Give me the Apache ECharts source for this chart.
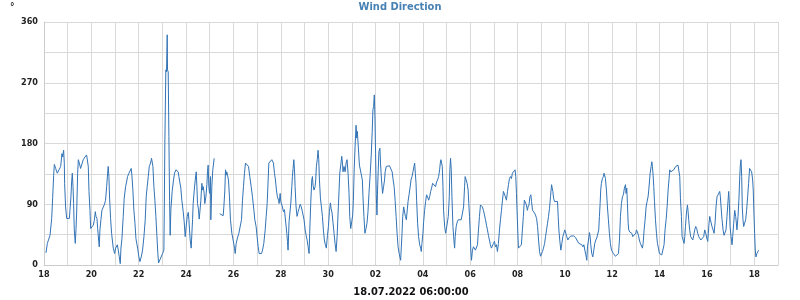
<!DOCTYPE html>
<html>
<head>
<meta charset="utf-8">
<script src="https://cdn.jsdelivr.net/npm/echarts@6/dist/echarts.min.js"></script>
<style>
html,body{margin:0;padding:0;background:#fff;}
#c{width:800px;height:300px;}
</style>
</head>
<body>
<div id="c"></div>
<script>
// Hours since 18.06.2022 00:00 and wind direction in degrees
const hoursA = [2.0,3.4,6.1,7.8,8.8,9.8,10.5,11.8,13.5,15.2,16.9,18.2,18.9,19.9,20.6,20.9,21.9,23.0,25.7,26.3,27.3,28.0,28.7,29.4,30.0,30.7,31.7,32.4,33.1,34.1,34.8,35.8,37.1,38.1,39.8,41.5,43.2,44.2,44.9,45.6,46.6,47.3,49.0,50.0,51.0,52.0,52.7,53.7,54.4,55.4,56.0,56.7,57.7,58.7,60.1,61.1,62.4,63.5,64.5,65.1,65.8,66.5,67.5,68.5,70.2,71.6,72.6,74.3,75.3,76.3,77.3,78.0,79.0,80.3,81.3,82.7,83.7,84.7,86.1,87.4,88.4,89.1,90.1,91.1,92.2,93.2,94.9,96.2,97.2,98.6,99.9,101.3,102.6,103.6,104.6,105.7,106.7,108.0,109.0,109.7,110.4,111.4,112.4,113.4,114.4,115.4,116.1,117.5];
const dirA = [18,32,44,69,100,133,149,143,136,141,146,165,160,170,150,121,86,69,69,81,101,123,136,116,91,52,32,52,77,136,156,151,143,148,156,160,163,165,146,109,81,54,54,59,66,79,72,69,54,37,27,52,67,81,86,89,96,116,136,146,131,99,69,47,25,17,25,30,22,12,2,25,39,72,99,116,123,131,136,138,143,133,111,81,62,39,25,12,5,12,22,42,67,101,116,131,146,151,158,160,146,116,96,72,44,17,3,5];

const hoursB = [120.2,121.5,121.9,122.5,123.5,124.2,124.9,125.2,125.9,126.6,127.3,127.9,128.6,129.3,129.9,131.3,132.3,133.7,135.0,136.0,136.7,137.7,138.7,139.7,141.1,142.1,143.1,144.1,145.2,146.2,146.9,147.5,148.2,149.2,149.9,150.6,151.2,152.3,153.3,154.3,155.0,155.6,156.6,157.3,158.0,159.0,160.0,160.7,161.4,162.4,163.0,164.1,165.1,165.7,166.4,167.1,167.8,168.8,169.1,170.1,171.1,172.5,175.0,178.2,181.6,182.3,183.3,184.0,184.6,185.3,186.0,187.0,188.0,189.0,190.4,191.7,193.1,193.8,194.8,196.1,197.5,199.2,200.2,201.2,202.2,203.2,204.2,205.9,207.3,208.6,210.0,211.3,212.7,213.7,215.0,216.0,217.1,218.1,220.5,221.5,222.8,224.2,225.2,226.2,227.2,227.9,229.9,230.9,231.9,232.6,233.6,234.6,235.6,236.6,237.7,238.3,239.4,240.0,241.0,241.7,242.7,243.7,245.1,246.1,246.8,247.4,248.4,249.1];
const dirB = [17,22,77,180,289,286,341,289,286,190,96,44,82,84,109,126,136,141,141,138,131,131,114,96,79,64,42,57,72,78,67,52,37,25,47,67,91,111,126,138,116,91,82,68,79,96,121,111,116,106,91,101,119,138,148,116,106,131,67,116,141,158,null,76,73,86,111,141,133,138,133,126,101,67,47,37,25,17,32,40,47,47,67,96,116,136,151,152,146,131,116,101,82,67,57,42,27,17,17,22,32,52,72,91,126,151,152,156,158,151,136,126,111,101,96,91,106,94,96,86,79,82,62,47,35,22,64,64];

const hoursC = [250.2,251.2,251.8,252.5,253.2,253.9,254.5,255.5,256.5,257.6,258.6,259.6,260.6,261.6,262.6,263.6,264.7,265.7,266.7,267.7,268.7,269.3,270.4,271.4,272.1,272.7,273.7,274.8,275.4,276.1,277.1,277.8,278.5,279.2,280.2,281.2,282.2,283.2,284.2,285.2,286.2,287.3,288.3,289.3,290.3,291.0,292.0,293.0,294.0,295.0,296.1,297.1,298.1,299.1,299.8,300.8,301.8,302.5,303.1,304.1,305.2,306.2,307.2,308.2,309.2,309.9,310.9,311.9,312.9,313.6,314.3,315.3,316.3,317.0,317.6,318.6,319.7,320.7,321.7,322.7,323.3,324.3,325.3,326.4,327.4,328.4,329.4,330.7,331.7,332.7,333.4,334.1,334.8,335.4,336.1,336.8,337.5,338.1,338.8,339.5,340.5,341.1,342.1,343.2,344.2,345.2,345.8,346.9,348.5,350.2,351.9,352.9,353.9,354.9,355.9,356.9,357.9,358.9,360.0];
const dirC = [92,116,131,143,156,141,116,86,72,79,84,90,87,81,79,67,52,44,37,27,17,47,92,126,131,118,111,116,126,146,158,170,156,126,99,86,72,52,37,30,25,44,57,79,92,84,77,62,47,32,20,42,77,111,136,148,161,151,138,146,138,151,156,136,106,72,54,64,74,96,136,175,207,188,198,175,148,148,146,126,101,72,47,54,62,79,106,136,163,198,230,235,252,222,165,104,74,111,141,168,173,151,126,106,116,126,138,146,148,147,145,138,126,116,96,72,47,27,17];

const hoursD = [361.5,362.9,363.6,364.6,365.6,366.3,367.3,367.9,369.0,370.0,371.0,372.0,373.0,374.0,375.0,375.7,376.4,377.1,377.7,378.7,379.7,380.8,381.8,382.4,383.1,384.1,384.8,385.8,386.8,387.8,388.8,389.9,390.9,391.9,392.9,393.9,394.9,395.9,396.9,397.9,399.0,400.0,401.0,401.7,402.3,403.0,403.7,404.4,405.0,406.1,407.1,407.7,408.8,409.8,410.8,411.4,412.1,412.8,413.5,414.5,415.5,416.2,416.8,417.8,418.9,419.9,421.2,422.9,424.6,425.3,426.3,426.9,427.9,428.9,429.9,430.6,431.3,431.9,432.6,433.3,434.3,435.3,436.3,437.3,438.4,439.4,440.4,441.4,442.4,443.4,444.4,445.4,446.5,447.5,448.5,449.5,450.5,451.5,452.5,453.5,454.6,455.6,456.6,457.6,458.6,459.6,460.6,461.7,462.7,463.7,464.7,465.7,466.7,467.7,468.7,469.8,470.8,471.8,472.8,473.8,474.8,475.8,476.8,477.5,478.2,478.9,479.5,480.2,480.9,481.9,482.9,483.9,484.9,485.9,486.9,487.9,489.0,490.0,490.6,491.6];
const dirD = [7,47,72,86,84,72,67,77,94,104,114,126,131,138,146,151,136,121,96,62,42,30,25,20,32,47,64,81,94,104,101,96,101,109,114,121,119,121,116,123,126,131,141,151,156,158,146,116,81,57,47,52,54,72,101,141,158,141,101,57,37,25,42,57,64,67,68,67,68,86,116,131,126,121,111,91,72,52,22,7,22,27,25,22,20,30,52,72,89,89,86,81,74,67,59,52,44,37,30,25,27,32,35,27,30,20,32,52,67,81,96,109,111,101,96,109,119,128,131,128,136,138,136,141,131,106,81,52,25,27,27,30,52,72,96,94,89,81,86,89];

const hoursE = [492.5,493.5,494.2,495.2,496.2,497.2,498.2,499.3,500.3,501.3,502.3,503.3,504.3,505.3,506.3,507.4,508.4,509.4,510.4,511.4,512.4,513.4,514.5,515.1,515.8,516.5,517.5,518.5,519.5,520.5,521.2,521.9,522.9,523.9,524.9,525.9,526.9,527.9,528.9,529.9,531.0,532.0,533.0,534.0,535.0,536.0,537.0,538.0,539.1,540.1,541.1,542.1,543.1,544.1,545.1,546.2,547.2,548.2,549.2,550.2,550.9,551.9,552.9,553.6,554.2,555.2,556.3,557.3,558.3,559.3,560.3,561.3,562.3,563.0,563.7,564.3,565.0,566.0,567.0,567.7,568.4,569.1,570.1,571.1,572.1,573.1,574.1,575.2,576.2,577.2,578.2,579.2,580.2,581.2,582.3,583.3,584.3,585.3,586.3,587.3,588.3,589.4,590.0,590.7,591.4,592.1,592.7,593.7,594.8,595.8,596.8,597.8,598.8,599.8,600.5,601.5,602.5,603.5,604.5,605.5,606.6,607.3,608.3,609.3,610.3,611.3,612.3,613.0];
const dirE = [101,104,94,81,79,77,74,69,57,37,20,13,13,20,25,32,42,52,62,72,84,101,119,114,109,99,94,96,94,94,72,52,35,22,32,42,47,52,51,42,37,40,42,43,44,44,43,42,40,37,35,32,30,30,30,27,30,22,15,7,27,37,48,42,30,17,12,22,32,37,40,40,52,72,91,111,121,128,131,136,137,128,111,86,67,47,32,22,20,17,15,13,13,15,17,37,72,91,101,104,114,119,106,114,91,62,52,49,49,47,42,40,40,47,52,49,44,37,32,30,25,32,52,67,86,94,101,111];

const hoursF = [614.4,615.4,616.1,616.7,617.4,618.1,618.8,619.8,620.8,621.8,622.8,623.8,624.8,626.2,627.5,628.5,629.5,630.6,631.6,632.6,633.6,634.3,635.3,636.3,637.3,638.3,639.3,640.3,641.4,642.7,643.7,644.4,645.1,646.1,646.8,647.8,648.8,649.5,650.2,651.2,652.2,652.9,653.5,654.5,655.5,656.6,657.6,658.6,659.6,660.6,661.6,662.6,663.7,664.7,665.7,666.7,667.7,668.7,669.7,670.8,671.8,672.8,673.4,674.1,674.8,675.5,676.1,677.1,678.2,679.2,680.2,681.2,682.2,683.2,684.2,684.9,685.6,686.3,687.3,688.3,689.3,690.3,691.3,692.3,693.4,694.0,694.7,695.4,696.4,697.4,698.1,699.1,700.1,701.1,701.8,702.4,703.5,704.5,705.1,705.8,706.5,707.2,707.8,708.5,709.2,710.2,711.2,712.2,713.2,714.2,715.2,716.2,717.3,718.3,718.9,719.6,720.3,721.0,721.6,722.6,723.6,724.3];
const dirF = [136,146,153,146,133,116,94,67,47,32,25,17,15,15,17,30,52,67,86,111,128,141,138,136,138,141,143,146,147,148,148,131,99,72,42,37,32,42,57,77,89,79,67,52,42,40,37,44,52,57,54,47,42,40,37,35,37,42,52,47,40,35,47,62,72,67,67,57,52,47,62,86,101,104,106,109,101,86,67,52,44,42,52,72,96,109,91,57,42,30,42,62,81,72,62,52,72,101,126,148,156,131,86,67,57,62,67,81,101,121,143,141,138,126,111,77,47,22,12,17,20,22];

const yTicks = [0, 90, 180, 270, 360];
const startDate = Date.UTC(2022, 5, 18, 0, 0, 0);   // 18.06.2022 00:00
const spanHours = 744;                               // 31 days shown
const chartTitle = 'Wind Direction';
const axisTitle = '18.07.2022 06:00:00';
const unitLabel = '°';

const allHours = [].concat(hoursA, hoursB, hoursC, hoursD, hoursE, hoursF);
const allDir = [].concat(dirA, dirB, dirC, dirD, dirE, dirF);
if (allHours.length !== allDir.length) console.error('length mismatch', allHours.length, allDir.length);
const seriesData = allHours.map((h, i) => [h, allDir[i]]);

const FF = "'DejaVu Sans Condensed', 'DejaVu Sans', sans-serif";
const chart = echarts.init(document.getElementById('c'), null, {renderer: 'canvas'});
chart.setOption({
  animation: false,
  backgroundColor: '#ffffff',
  title: {
    text: chartTitle,
    left: 'center',
    top: 0,
    padding: [2, 5, 5, 5],
    textStyle: {color: '#4682b4', fontSize: 11, fontWeight: 'bold', fontFamily: FF}
  },
  graphic: [{
    type: 'text', left: 10, top: 2,
    style: {text: unitLabel, fontSize: 10, fontWeight: 'bold', fill: '#222', fontFamily: FF}
  }],
  grid: {left: 44, right: 22, top: 22, bottom: 35, containLabel: false, outerBoundsMode: 'none'},
  xAxis: {
    type: 'value',
    min: 0, max: spanHours, interval: 24,
    name: axisTitle,
    nameLocation: 'middle',
    nameGap: 22,
    nameTextStyle: {color: '#111', fontSize: 11, fontWeight: 'bold', fontFamily: FF},
    axisLine: {show: true, lineStyle: {color: '#cccccc'}},
    axisTick: {show: false},
    splitLine: {show: true, lineStyle: {color: '#d9d9d9', width: 1}},
    axisLabel: {
      color: '#222', fontSize: 9, fontWeight: 'bold', fontFamily: FF, margin: 5,
      showMaxLabel: true,
      formatter: function (v) {
        const d = new Date(startDate + v * 3600000).getUTCDate();
        return d % 2 === 0 ? (d < 10 ? '0' + d : '' + d) : '';
      }
    }
  },
  yAxis: {
    type: 'value',
    min: 0, max: 360, interval: 45,
    axisLine: {show: true, lineStyle: {color: '#cccccc'}},
    axisTick: {show: false},
    splitLine: {show: true, lineStyle: {color: '#d9d9d9', width: 1}},
    axisLabel: {
      color: '#222', fontSize: 9, fontWeight: 'bold', fontFamily: FF, margin: 6,
      formatter: function (v) { return yTicks.indexOf(v) >= 0 ? '' + v : ''; }
    }
  },
  series: [{
    type: 'line',
    data: seriesData,
    showSymbol: false,
    connectNulls: false,
    lineStyle: {color: '#3273b5', width: 1},
    itemStyle: {color: '#3273b5'}
  }]
});
</script>
</body>
</html>
